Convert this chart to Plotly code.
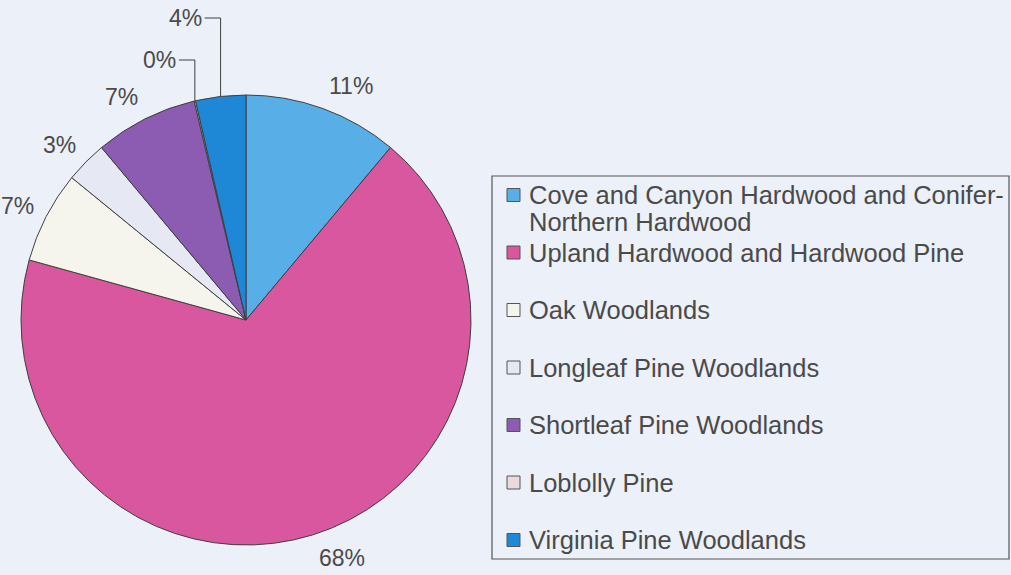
import math
import plotly.graph_objects as go

W, H = 1011, 575

labels = [
    "Cove and Canyon Hardwood and Conifer-<br>Northern Hardwood",
    "Upland Hardwood and Hardwood Pine",
    "Oak Woodlands",
    "Longleaf Pine Woodlands",
    "Shortleaf Pine Woodlands",
    "Loblolly Pine",
    "Virginia Pine Woodlands",
]
values = [11.1, 68.2, 6.6, 3.0, 7.4, 0.1, 3.6]
colors = ["#58AEE6", "#D8579F", "#F5F5EE", "#E6E9F3", "#8C5BB2", "#EBD9E0", "#1F88D6"]

FONT = "Liberation Sans, Arial, sans-serif"
TEXT_COLOR = "#4a4a4a"
LINE_COLOR = "#3f3f3f"
BG = "#ECF0F8"

# pie geometry in pixels
CX, CY, R = 246, 320, 225

fig = go.Figure()
fig.add_trace(go.Pie(
    labels=labels,
    values=values,
    sort=False,
    direction="clockwise",
    rotation=0,
    marker=dict(colors=colors, line=dict(color=LINE_COLOR, width=1)),
    textinfo="none",
    domain=dict(x=[(CX - R) / W, (CX + R) / W], y=[1 - (CY + R) / H, 1 - (CY - R) / H]),
    showlegend=False,
    hoverinfo="label+percent",
))

px = lambda x: x / W
py = lambda y: 1 - y / H

# percentage labels derived from the values (Excel-like outside placement)
total = sum(values)
LABEL_GAP = 10
LABEL_VSHIFT = 14
LABEL_FONT = dict(family=FONT, size=23, color=TEXT_COLOR)
LEADER_LIFTS = [35, 77]  # stacked lifts above the pie top for crowded small slices
cum = 0.0
lift_idx = 0
for v in values:
    frac = v / total
    mid = 2 * math.pi * (cum + frac / 2)
    cum += frac
    s, c = math.sin(mid), math.cos(mid)
    txt = f"{round(frac * 100)}%"
    crowded = frac < 0.05 and c > 0.95
    if crowded:
        ax, ay = CX + R * s, CY - R * c
        ly = CY - R - LEADER_LIFTS[lift_idx]
        lift_idx += 1
        fig.add_shape(type="path", xref="paper", yref="paper",
                      path=f"M {px(ax - 16)} {py(ly)} L {px(ax)} {py(ly)} L {px(ax)} {py(ay)}",
                      line=dict(color=LINE_COLOR, width=1))
        fig.add_annotation(xref="paper", yref="paper", x=px(ax - 17), y=py(ly),
                           text=txt, showarrow=False, xanchor="right", yanchor="middle",
                           font=LABEL_FONT)
    else:
        lx = CX + (R + LABEL_GAP) * s
        ly = CY - (R + LABEL_GAP) * c - LABEL_VSHIFT * c
        xa = "left" if s > 0 else "right"
        lx += 1 if s > 0 else -1
        fig.add_annotation(xref="paper", yref="paper", x=px(lx), y=py(ly),
                           text=txt, showarrow=False, xanchor=xa, yanchor="middle",
                           font=LABEL_FONT)

# manual boxed legend, entries derived from labels/colors
fig.add_shape(type="rect", xref="paper", yref="paper",
              x0=px(492), x1=px(1009), y0=py(176), y1=py(559),
              line=dict(color="#555555", width=1.2), fillcolor="rgba(0,0,0,0)")
for i, (lab, col) in enumerate(zip(labels, colors)):
    yc = 195 + 57.5 * i
    fig.add_shape(type="rect", xref="paper", yref="paper",
                  x0=px(507), x1=px(520), y0=py(yc - 6.5), y1=py(yc + 6.5),
                  line=dict(color="#555555", width=1), fillcolor=col)
    for j, part in enumerate(lab.split("<br>")):
        fig.add_annotation(xref="paper", yref="paper", x=px(527), y=py(yc + 27 * j),
                           text=part, showarrow=False, xanchor="left", yanchor="middle",
                           font=dict(family=FONT, size=25.5, color=TEXT_COLOR))

fig.update_layout(
    width=W, height=H,
    margin=dict(l=0, r=0, t=0, b=0),
    paper_bgcolor=BG, plot_bgcolor=BG,
)
fig.write_html("out.html")
